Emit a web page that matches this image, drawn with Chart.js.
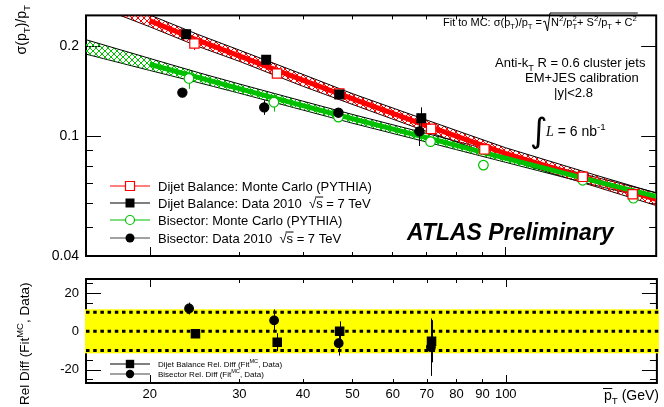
<!DOCTYPE html>
<html>
<head>
<meta charset="utf-8">
<title>Jet pT resolution</title>
<script src="https://cdn.jsdelivr.net/npm/chart.js"></script>
<style>
  body { margin: 0; background: #fff; }
  #wrap { position: relative; width: 664px; height: 407px; }
  #wrap canvas { position: absolute; left: 0; top: 0; }
</style>
</head>
<body>
<div id="wrap">
  <canvas id="topChart" width="664" height="407"></canvas>
  <canvas id="botChart" width="664" height="407"></canvas>
</div>
<script>
// values
const xRange = [15, 198];
const yTopRange = [0.04, 0.253];
const yBotRange = [-27, 27.3];
const yTopTicks = [0.04, 0.1, 0.2];
const yTopMinor = [0.05, 0.06, 0.07, 0.08, 0.09];
const yTopMajor = [0.1, 0.2];
const yBotTicks = [-20, 0, 20];
const yBotMinor = [-25, -15, 15, 25];
const xTicks = [20, 30, 40, 50, 60, 70, 80, 90, 100];
const xMajor = [20, 100];
const xMinor = [30, 40, 50, 60, 70, 80, 90];

// top panel: sigma(pT)/pT
const dijetMcPt  = [24.5, 35.6, 47.2, 71.5, 91, 142, 178];
const dijetMcRes = [0.204, 0.162, 0.139, 0.106, 0.0906, 0.0734, 0.0642];
const dijetMcErr = [0.010, 0.004, 0.003, 0.003, 0.002, 0.002, 0.002];

const dijetDataPt  = [23.6, 33.9, 47.2, 68.4];
const dijetDataRes = [0.219, 0.180, 0.138, 0.115];
const dijetDataErr = [0.003, 0.005, 0.003, 0.010];

const bisMcPt  = [23.9, 35.1, 47.0, 71.3, 90.6, 142, 178.6];
const bisMcRes = [0.156, 0.130, 0.116, 0.0961, 0.0803, 0.0715, 0.0623];
const bisMcErr = [0.012, 0.009, 0.003, 0.003, 0.002, 0.002, 0.002];

const bisDataPt  = [23.2, 33.6, 47.0, 67.8];
const bisDataRes = [0.140, 0.125, 0.120, 0.104];
const bisDataErr = [0.002, 0.007, 0.004, 0.011];

// fit bands
const fitPt      = [15, 20, 25, 30, 40, 50, 70, 100, 150, 198];
const dijetFit   = [0.297, 0.243, 0.2084, 0.1856, 0.154, 0.1336, 0.1087, 0.0879, 0.0713, 0.0618];
const dijetFitHi = [0.315, 0.254, 0.218, 0.194, 0.161, 0.139, 0.1135, 0.0918, 0.0745, 0.0648];
const dijetFitLo = [0.280, 0.232, 0.199, 0.178, 0.147, 0.128, 0.104, 0.0841, 0.0682, 0.0589];
const bisFit     = [0.1985, 0.174, 0.157, 0.1444, 0.1267, 0.1146, 0.0991, 0.0847, 0.0710, 0.0632];
const bisFitHi   = [0.210, 0.182, 0.163, 0.1496, 0.1311, 0.1185, 0.1024, 0.0874, 0.0733, 0.0650];
const bisFitLo   = [0.188, 0.166, 0.151, 0.1394, 0.1225, 0.1108, 0.0959, 0.0821, 0.0688, 0.0614];

// bottom panel: relative difference (%)
const dijetRelPt  = [24.6, 35.6, 47.2, 71.5];
const dijetRel    = [-1.3, -5.7, 0.0, -5.2];
const dijetRelErr = [2.0, 4.7, 5.2, 11];
const bisRelPt  = [23.9, 35.1, 47.0, 71.3];
const bisRel    = [11.9, 5.7, -6.2, -8.3];
const bisRelErr = [3.1, 5.7, 6.5, 15];
const bandLimits = [-11.5, 11.5];
const refLines = [-10, 0, 10];

const FONT = '"Liberation Sans", Arial, Helvetica, sans-serif';
Chart.defaults.font.family = FONT;
Chart.defaults.color = '#000';

const RED = '#ff0000', GREEN = '#00c000';

const xy = (xs, ys) => xs.map((x, i) => ({ x: x, y: ys[i] }));

function hatch(canvasId, color) {
  const c = document.createElement('canvas');
  c.width = 6; c.height = 6;
  const g = c.getContext('2d');
  g.strokeStyle = color;
  g.lineWidth = 1;
  g.beginPath();
  g.moveTo(0, 0); g.lineTo(6, 6);
  g.moveTo(6, 0); g.lineTo(0, 6);
  g.stroke();
  return document.getElementById(canvasId).getContext('2d').createPattern(c, 'repeat');
}

// draws text pieces with sub/superscripts, returns end x
function rich(ctx, x, y, segs, size) {
  ctx.save();
  ctx.textBaseline = 'alphabetic';
  ctx.textAlign = 'left';
  ctx.fillStyle = '#000';
  ctx.strokeStyle = '#000';
  for (const [t, m] of segs) {
    let fs = size, dy = 0, style = '', fam = FONT;
    if (m === 'sub') { fs = size * 0.7; dy = size * 0.3; }
    if (m === 'sup' || m === 'supk') { fs = size * 0.7; dy = -size * 0.45; }
    if (m === 'it') { style = 'italic '; fam = '"Liberation Serif", "Times New Roman", serif'; }
    ctx.font = style + fs + 'px ' + fam;
    ctx.fillText(t, x, y + dy);
    const w = ctx.measureText(t).width;
    if (m === 'ov') {
      ctx.lineWidth = 1;
      ctx.beginPath();
      ctx.moveTo(x - 1, y - size * 0.82);
      ctx.lineTo(x + w + 0.5, y - size * 0.82);
      ctx.stroke();
    }
    if (m !== 'supk') x += w;
  }
  ctx.restore();
  return x;
}

function marker(ctx, x, y, shape, color, filled, r) {
  ctx.save();
  ctx.fillStyle = color;
  ctx.strokeStyle = color;
  ctx.lineWidth = 1.2;
  ctx.beginPath();
  if (shape === 'rect') ctx.rect(x - r, y - r, 2 * r, 2 * r);
  else ctx.arc(x, y, r, 0, Math.PI * 2);
  if (filled) ctx.fill();
  else { ctx.fillStyle = '#fff'; ctx.fill(); ctx.stroke(); }
  ctx.restore();
}

function legendRow(ctx, y, lineColor, shape, color, filled, r, segs, size) {
  ctx.save();
  ctx.strokeStyle = lineColor;
  ctx.lineWidth = 1;
  ctx.beginPath();
  ctx.moveTo(110, y); ctx.lineTo(150, y);
  ctx.stroke();
  ctx.restore();
  marker(ctx, 130, y, shape, color, filled, r);
  rich(ctx, 158, y + size * 0.36, segs, size);
}

// inside ticks on all four sides + frame
function drawFrame(chart, o) {
  const { ctx, chartArea: a, scales } = chart;
  const sx = scales.x, sy = scales.y;
  ctx.save();
  ctx.strokeStyle = '#000';
  ctx.lineWidth = 1;
  ctx.beginPath();
  const xt = (vals, len) => vals.forEach(v => {
    const p = Math.round(sx.getPixelForValue(v)) + 0.5;
    ctx.moveTo(p, a.top); ctx.lineTo(p, a.top + len);
    ctx.moveTo(p, a.bottom); ctx.lineTo(p, a.bottom - len);
  });
  const yt = (vals, len) => vals.forEach(v => {
    const p = Math.round(sy.getPixelForValue(v)) + 0.5;
    ctx.moveTo(a.left, p); ctx.lineTo(a.left + len, p);
    ctx.moveTo(a.right, p); ctx.lineTo(a.right - len, p);
  });
  xt(xMajor, o.xMaj); xt(xMinor, o.xMin);
  yt(o.yMajor, 15); yt(o.yMinor, 7);
  ctx.stroke();
  ctx.lineWidth = 2;
  ctx.strokeRect(a.left, a.top, a.right - a.left, a.bottom - a.top);
  ctx.restore();
}

const errorBars = {
  id: 'errorBars',
  beforeDatasetDraw(chart, args) {
    const ds = chart.data.datasets[args.index];
    if (!ds.err) return;
    const { ctx } = chart;
    const sx = chart.scales.x, sy = chart.scales.y;
    ctx.save();
    ctx.strokeStyle = ds.errColor;
    ctx.lineWidth = 1;
    ctx.beginPath();
    ds.data.forEach((p, i) => {
      const px = Math.round(sx.getPixelForValue(p.x)) + 0.5;
      ctx.moveTo(px, sy.getPixelForValue(p.y - ds.err[i]));
      ctx.lineTo(px, sy.getPixelForValue(p.y + ds.err[i]));
    });
    ctx.stroke();
    ctx.restore();
  }
};

const topDeco = {
  id: 'topDeco',
  beforeDatasetsDraw(chart) {
    drawFrame(chart, { xMaj: 9, xMin: 4, yMajor: yTopMajor, yMinor: yTopMinor });
  },
  afterDraw(chart) {
    const ctx = chart.ctx;
    // y title, right-aligned to the top of the axis
    ctx.save();
    ctx.translate(26, 5);
    ctx.rotate(-Math.PI / 2);
    ctx.font = '14px ' + FONT;
    const w = ['σ(p', ')/p'].reduce((s, t) => s + ctx.measureText(t).width, 0);
    ctx.font = '9.8px ' + FONT;
    const wt = ctx.measureText('T').width * 2;
    rich(ctx, -(w + wt), 0, [['σ(p', ''], ['T', 'sub'], [')/p', ''], ['T', 'sub']], 14);
    ctx.restore();

    // fit formula
    let x = rich(ctx, 443, 26, [['Fit to MC: σ(p', ''], ['T', 'sub'], [')/p', ''], ['T', 'sub'], [' =', '']], 11);
    const x0 = x + 1;
    const xe = rich(ctx, x0 + 8, 26, [['N', ''], ['2', 'sup'], ['/p', ''], ['2', 'supk'], ['T', 'sub'], ['+ S', ''], ['2', 'sup'], ['/p', ''], ['T', 'sub'], [' + C', ''], ['2', 'sup']], 11);
    ctx.save();
    ctx.strokeStyle = '#000';
    ctx.lineWidth = 1;
    ctx.beginPath();
    ctx.moveTo(x0, 22); ctx.lineTo(x0 + 2, 21);
    ctx.lineTo(x0 + 4.5, 31); ctx.lineTo(x0 + 7, 13); ctx.lineTo(xe + 1, 13);
    ctx.stroke();
    ctx.restore();

    rich(ctx, 495, 67, [['Anti-k', ''], ['T', 'sub'], [' R = 0.6 cluster jets', '']], 13);
    rich(ctx, 525, 82, [['EM+JES calibration', '']], 13);
    rich(ctx, 554, 97, [['|y|<2.8', '']], 13);

    ctx.save();
    ctx.font = '34px "DejaVu Sans", sans-serif';
    ctx.fillStyle = '#000';
    ctx.fillText('∫', 530, 142);
    ctx.restore();
    rich(ctx, 546, 136, [['L', 'it'], [' = 6 nb', ''], ['-1', 'sup']], 14);

    ctx.save();
    ctx.font = 'italic bold 23px ' + FONT;
    ctx.fillStyle = '#000';
    ctx.fillText('ATLAS Preliminary', 407, 240);
    ctx.restore();

    legendRow(ctx, 186, RED, 'rect', RED, false, 4.5, [['Dijet Balance: Monte Carlo (PYTHIA)', '']], 13);
    legendRow(ctx, 203, '#000', 'rect', '#000', true, 4.5, [['Dijet Balance: Data 2010  √', ''], ['s', 'ov'], [' = 7 TeV', '']], 13);
    legendRow(ctx, 220, GREEN, 'circle', GREEN, false, 4.5, [['Bisector: Monte Carlo (PYTHIA)', '']], 13);
    legendRow(ctx, 238, '#444', 'circle', '#000', true, 4.5, [['Bisector: Data 2010  √', ''], ['s', 'ov'], [' = 7 TeV', '']], 13);
  }
};

const botDeco = {
  id: 'botDeco',
  beforeDatasetsDraw(chart) {
    drawFrame(chart, { xMaj: 8, xMin: 4, yMajor: yBotTicks, yMinor: yBotMinor });
    const { ctx, chartArea: a } = chart;
    const sy = chart.scales.y;
    ctx.save();
    ctx.fillStyle = '#ffff00';
    const y1 = sy.getPixelForValue(bandLimits[1]), y0 = sy.getPixelForValue(bandLimits[0]);
    ctx.fillRect(a.left - 1, y1, a.right - a.left + 3, y0 - y1);
    ctx.strokeStyle = '#000';
    ctx.lineWidth = 3;
    ctx.setLineDash([3.5, 3.7]);
    refLines.forEach(v => {
      const p = sy.getPixelForValue(v);
      ctx.beginPath();
      ctx.moveTo(a.left, p); ctx.lineTo(a.right + 2, p);
      ctx.stroke();
    });
    ctx.restore();
  },
  afterDraw(chart) {
    const ctx = chart.ctx;
    ctx.save();
    ctx.translate(29, 405);
    ctx.rotate(-Math.PI / 2);
    rich(ctx, 0, 0, [['Rel Diff (Fit', ''], ['MC', 'sup'], [', Data)', '']], 13.5);
    ctx.restore();

    rich(ctx, 604, 400, [['p', 'ov'], ['T', 'sub'], [' (GeV)', '']], 14);

    legendRow(ctx, 364, '#000', 'rect', '#000', true, 4.2, [['Dijet Balance Rel. Diff (Fit', ''], ['MC', 'sup'], [', Data)', '']], 8);
    legendRow(ctx, 374, '#444', 'circle', '#000', true, 4.2, [['Bisector Rel. Diff (Fit', ''], ['MC', 'sup'], [', Data)', '']], 8);
  }
};

const baseX = {
  type: 'logarithmic', min: xRange[0], max: xRange[1],
  grid: { display: false, drawTicks: false },
  border: { display: false }
};

const redHatch = hatch('topChart', RED);
const greenHatch = hatch('topChart', GREEN);

const pointSet = (label, xs, ys, errs, shape, color, filled, r, errColor) => ({
  label: label,
  data: xy(xs, ys),
  err: errs,
  errColor: errColor,
  showLine: false,
  pointStyle: shape,
  pointRadius: r,
  pointBorderWidth: 1.2,
  pointBackgroundColor: filled ? color : '#fff',
  pointBorderColor: color
});

const lineSet = (label, xs, ys, color, width, fill, bg) => ({
  label: label,
  data: xy(xs, ys),
  showLine: true,
  pointRadius: 0,
  borderColor: color,
  borderWidth: width,
  tension: 0,
  fill: fill,
  backgroundColor: bg || 'rgba(0,0,0,0)'
});

new Chart(document.getElementById('topChart'), {
  type: 'line',
  data: {
    datasets: [
      pointSet('Dijet Balance: Data 2010', dijetDataPt, dijetDataRes, dijetDataErr, 'rect', '#000', true, 6.2, '#000'),
      pointSet('Bisector: Data 2010', bisDataPt, bisDataRes, bisDataErr, 'circle', '#000', true, 4.6, '#000'),
      pointSet('Dijet Balance: Monte Carlo (PYTHIA)', dijetMcPt, dijetMcRes, dijetMcErr, 'rect', RED, false, 6.6, RED),
      pointSet('Bisector: Monte Carlo (PYTHIA)', bisMcPt, bisMcRes, bisMcErr, 'circle', GREEN, false, 4.8, GREEN),
      lineSet('Bisector fit', fitPt.slice(1), bisFit.slice(1), GREEN, 5, false),
      lineSet('Dijet fit', fitPt.slice(1), dijetFit.slice(1), RED, 5, false),
      lineSet('Dijet fit up', fitPt, dijetFitHi, '#000', 1, '+1', redHatch),
      lineSet('Dijet fit down', fitPt, dijetFitLo, '#000', 1, false),
      lineSet('Bisector fit up', fitPt, bisFitHi, '#000', 1, '+1', greenHatch),
      lineSet('Bisector fit down', fitPt, bisFitLo, '#000', 1, false)
    ]
  },
  options: {
    responsive: false,
    animation: false,
    events: [],
    layout: { padding: { top: 6, right: 2, bottom: 151, left: 0 } },
    plugins: { legend: { display: false }, tooltip: { enabled: false } },
    scales: {
      x: Object.assign({}, baseX, {
        ticks: { display: false },
        afterFit(s) { s.height = 0; }
      }),
      y: {
        type: 'logarithmic', min: yTopRange[0], max: yTopRange[1],
        grid: { display: false, drawTicks: false },
        border: { display: false },
        afterBuildTicks(s) { s.ticks = yTopTicks.map(v => ({ value: v })); },
        ticks: { callback: v => String(v), font: { size: 14 }, padding: 7, color: '#000' },
        afterFit(s) { s.width = 86; }
      }
    }
  },
  plugins: [topDeco, errorBars]
});

new Chart(document.getElementById('botChart'), {
  type: 'line',
  data: {
    datasets: [
      pointSet('Dijet Balance Rel. Diff', dijetRelPt, dijetRel, dijetRelErr, 'rect', '#000', true, 5.9, '#000'),
      pointSet('Bisector Rel. Diff', bisRelPt, bisRel, bisRelErr, 'circle', '#000', true, 4.3, '#000')
    ]
  },
  options: {
    responsive: false,
    animation: false,
    events: [],
    layout: { padding: { top: 279, right: 2, bottom: 0, left: 0 } },
    plugins: { legend: { display: false }, tooltip: { enabled: false } },
    scales: {
      x: Object.assign({}, baseX, {
        afterBuildTicks(s) { s.ticks = xTicks.map(v => ({ value: v })); },
        ticks: { callback: v => String(v), font: { size: 13 }, padding: 4, color: '#000', autoSkip: false, maxRotation: 0 },
        afterFit(s) { s.height = 24; }
      }),
      y: {
        type: 'linear', min: yBotRange[0], max: yBotRange[1],
        grid: { display: false, drawTicks: false },
        border: { display: false },
        afterBuildTicks(s) { s.ticks = yBotTicks.map(v => ({ value: v })); },
        ticks: { font: { size: 13 }, padding: 7, color: '#000' },
        afterFit(s) { s.width = 86; }
      }
    }
  },
  plugins: [botDeco, errorBars]
});
</script>
</body>
</html>
